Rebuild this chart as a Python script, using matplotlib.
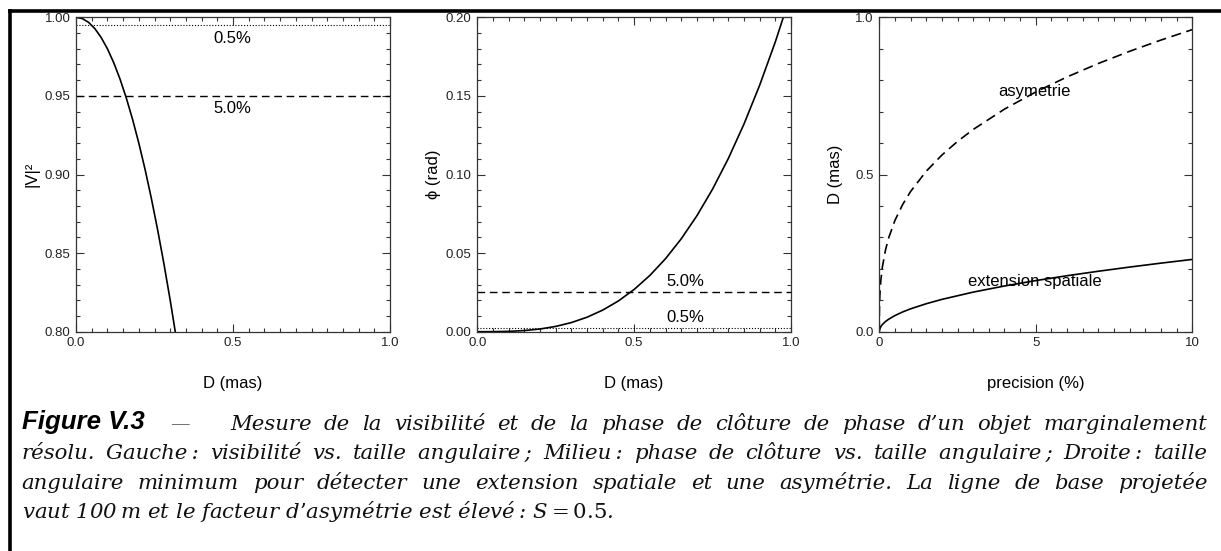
import matplotlib
matplotlib.use('Agg')
import matplotlib.pyplot as plt
import matplotlib.transforms as mtransforms
from matplotlib.ticker import MultipleLocator, FormatStrFormatter
from matplotlib.lines import Line2D

plt.rcParams['font.family'] = ['Liberation Sans', 'DejaVu Sans']
plt.rcParams['mathtext.fontset'] = 'dejavuserif'

#left panel : visibility vs angular size
vis_D = [0.0, 0.02, 0.04, 0.06, 0.08, 0.10, 0.12, 0.14, 0.16, 0.18, 0.20,
         0.22, 0.24, 0.26, 0.28, 0.30, 0.32]
vis_V2 = [1.0, 0.9992, 0.9968, 0.9928, 0.9872, 0.980, 0.9712, 0.9608, 0.9488,
          0.9352, 0.920, 0.9032, 0.8848, 0.8648, 0.8432, 0.820, 0.7952]
vis_levels = [0.995, 0.95]
vis_level_labels = ['0.5%', '5.0%']

#middle panel : closure phase vs angular size
cp_D = [0.0, 0.05, 0.10, 0.15, 0.20, 0.25, 0.30, 0.35, 0.40, 0.45, 0.50,
        0.55, 0.60, 0.65, 0.70, 0.75, 0.80, 0.85, 0.90, 0.95, 1.00]
cp_phi = [0.0, 0.00003, 0.000215, 0.00073, 0.00172, 0.00336, 0.00581, 0.00922,
          0.01376, 0.01959, 0.02688, 0.03577, 0.04644, 0.05905, 0.07375,
          0.0907, 0.11008, 0.13204, 0.15674, 0.18434, 0.215]
cp_levels = [0.025, 0.0025]
cp_level_labels = ['5.0%', '0.5%']

#right panel : minimum angular size vs precision
ext_prec = [0.0, 0.001, 0.01, 0.05, 0.1, 0.2, 0.3, 0.5, 0.75, 1.0, 1.5, 2.0,
            3.0, 4.0, 5.0, 6.0, 7.0, 8.0, 9.0, 10.0]
ext_D = [0.0, 0.0023, 0.0073, 0.0163, 0.023, 0.0325, 0.0398, 0.0514, 0.063,
         0.0727, 0.089, 0.1028, 0.1259, 0.1454, 0.1626, 0.1781, 0.1923,
         0.2056, 0.2181, 0.2299]
asym_prec = [0.0, 0.001, 0.005, 0.01, 0.02, 0.05, 0.1, 0.2, 0.3, 0.5, 0.75,
             1.0, 1.5, 2.0, 2.5, 3.0, 4.0, 5.0, 6.0, 7.0, 8.0, 9.0, 10.0]
asym_D = [0.0, 0.0446, 0.0763, 0.0961, 0.121, 0.1643, 0.207, 0.2608, 0.2986,
          0.354, 0.4052, 0.446, 0.5105, 0.5619, 0.6053, 0.6432, 0.708, 0.7626,
          0.8104, 0.8532, 0.892, 0.9277, 0.9609]

W, H = 1221, 551
fig = plt.figure(figsize=(W / 100, H / 100), dpi=100)

def px_axes(left, top, right, bottom):
    return fig.add_axes([left / W, 1 - bottom / H, (right - left) / W, (bottom - top) / H])

def style_axes(ax, xmaj, xmin, ymaj, ymin, xfmt, yfmt):
    ax.xaxis.set_major_locator(MultipleLocator(xmaj))
    ax.xaxis.set_minor_locator(MultipleLocator(xmin))
    ax.yaxis.set_major_locator(MultipleLocator(ymaj))
    ax.yaxis.set_minor_locator(MultipleLocator(ymin))
    ax.xaxis.set_major_formatter(FormatStrFormatter(xfmt))
    ax.yaxis.set_major_formatter(FormatStrFormatter(yfmt))
    ax.tick_params(which='both', direction='in', top=True, right=True,
                   color='#333333', width=0.8, labelsize=9.5, labelcolor='#222222')
    ax.tick_params(which='major', length=5.5, pad=4)
    ax.tick_params(which='minor', length=3)
    for s in ax.spines.values():
        s.set_color('#333333')
        s.set_linewidth(0.9)

dash = (5.5, 3.4)
dot = (1, 1.6)

#left
ax1 = px_axes(76, 17.3, 390, 331.7)
ax1.plot(vis_D, vis_V2, color='k', lw=1.2)
ax1.axhline(vis_levels[0], color='k', lw=0.8, dashes=dot)
ax1.axhline(vis_levels[1], color='k', lw=1.0, dashes=dash)
ax1.text(0.497, 0.9866, vis_level_labels[0], ha='center', va='center', fontsize=12)
ax1.text(0.497, 0.942, vis_level_labels[1], ha='center', va='center', fontsize=12)
ax1.set_xlim(0, 1)
ax1.set_ylim(0.8, 1.0)
style_axes(ax1, 0.5, 0.05, 0.05, 0.01, '%.1f', '%.2f')
ax1.set_xlabel('D (mas)', fontsize=12)
ax1.set_ylabel('|V|²', fontsize=12)

#middle
ax2 = px_axes(477.3, 17.3, 791, 331.7)
ax2.plot(cp_D, cp_phi, color='k', lw=1.2)
ax2.axhline(cp_levels[0], color='k', lw=1.0, dashes=dash)
ax2.axhline(cp_levels[1], color='k', lw=0.8, dashes=dot)
ax2.text(0.664, 0.0317, cp_level_labels[0], ha='center', va='center', fontsize=12)
ax2.text(0.664, 0.0092, cp_level_labels[1], ha='center', va='center', fontsize=12)
ax2.set_xlim(0, 1)
ax2.set_ylim(0, 0.2)
style_axes(ax2, 0.5, 0.05, 0.05, 0.01, '%.1f', '%.2f')
ax2.set_xlabel('D (mas)', fontsize=12)
ax2.set_ylabel('ϕ (rad)', fontsize=12)

#right
ax3 = px_axes(879.3, 17.3, 1192.3, 331.7)
ax3.plot(ext_prec, ext_D, color='k', lw=1.2)
ax3.plot(asym_prec, asym_D, color='k', lw=1.2, dashes=(6, 3.4))
ax3.text(4.96, 0.763, 'asymetrie', ha='center', va='center', fontsize=12)
ax3.text(4.97, 0.161, 'extension spatiale', ha='center', va='center', fontsize=12)
ax3.set_xlim(0, 10)
ax3.set_ylim(0, 1)
style_axes(ax3, 5, 0.5, 0.5, 0.1, '%d', '%.1f')
ax3.set_xlabel('precision (%)', fontsize=12)
ax3.set_ylabel('D (mas)', fontsize=12)

for ax in (ax1, ax2, ax3):
    ax.xaxis.set_label_coords(0.5, -0.166)
    ax.yaxis.set_label_coords(-0.141, 0.5)
    ax.xaxis.label.set_va('center')
    ax.yaxis.label.set_va('center')

#frame around the figure
fig.add_artist(Line2D([9.5 / W, 9.5 / W], [0, 1 - 9 / H], color='k', lw=2.6,
                      solid_capstyle='butt'))
fig.add_artist(Line2D([8 / W, 1], [1 - 10.5 / H, 1 - 10.5 / H], color='k', lw=2.6,
                      solid_capstyle='butt'))

#caption
pix = mtransforms.IdentityTransform()
cap_kw = dict(family='DejaVu Serif', style='italic', fontsize=15.3, color='#111111')
renderer = fig.canvas.get_renderer()

def justify(words, x0, x1, y):
    ts = [fig.text(0, 0, w, transform=pix, va='baseline', **cap_kw) for w in words]
    widths = [t.get_window_extent(renderer).width for t in ts]
    gap = (x1 - x0 - sum(widths)) / (len(words) - 1)
    x = x0
    for t, wd in zip(ts, widths):
        t.set_position((x, H - y))
        x += wd + gap

fig.text(21.7, H - 429.5, 'Figure V.3', transform=pix, va='baseline',
         family='Liberation Sans', style='italic', weight='bold', fontsize=18.6)
fig.text(180, H - 429.5, '—', transform=pix, va='baseline', ha='center',
         family='DejaVu Serif', fontsize=14, color='#666666')

line1 = 'Mesure de la visibilité et de la phase de clôture de phase d’un objet marginalement'
line2 = ('résolu. Gauche\u2009: visibilité vs. taille angulaire\u2009; Milieu\u2009: '
         'phase de clôture vs. taille angulaire\u2009; Droite\u2009: taille')
line3 = ('angulaire minimum pour détecter une extension spatiale et une asymétrie. '
         'La ligne de base projetée')
line4 = 'vaut 100\u2009m et le facteur d’asymétrie est élevé\u2009: $S = 0.5$.'

justify(line1.split(' '), 230, 1207.7, 429.5)
justify(line2.split(' '), 21.7, 1207.7, 459)
justify(line3.split(' '), 21.7, 1207.7, 488.7)
fig.text(21.7, H - 518.5, line4, transform=pix, va='baseline', **cap_kw)

fig.savefig('out.png', dpi=100)
